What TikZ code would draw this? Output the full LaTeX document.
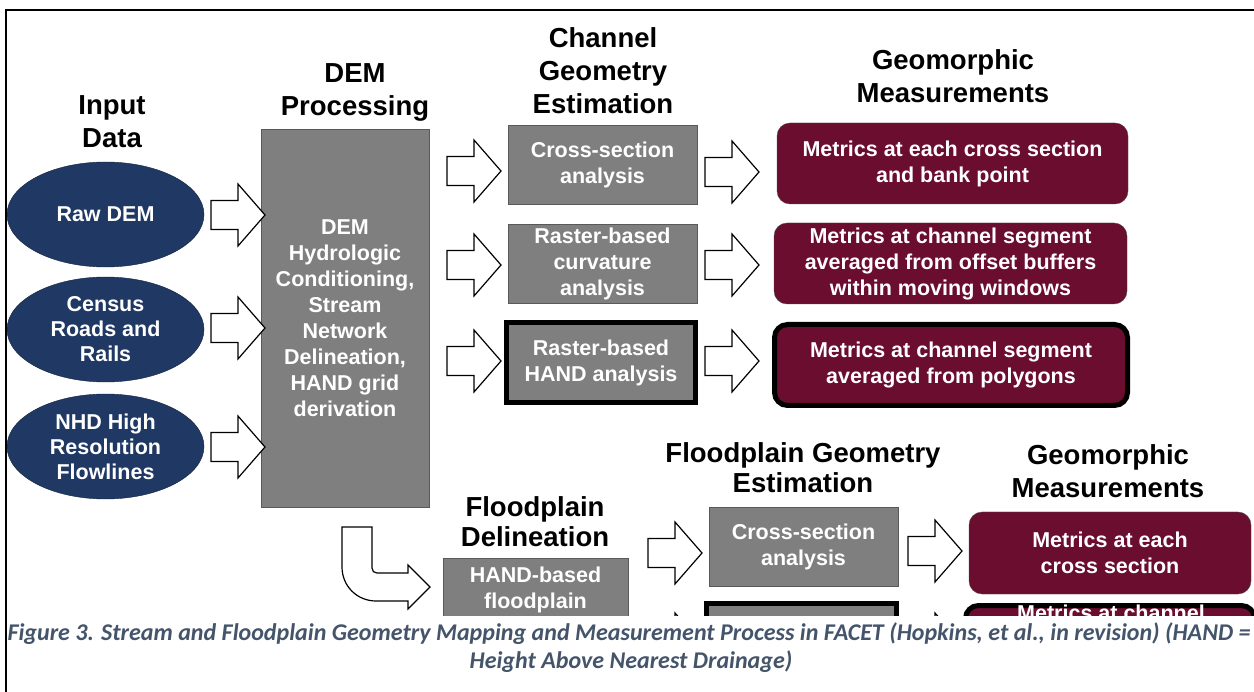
\documentclass[tikz,border=0pt]{standalone}
\usepackage{fontspec}
\setmainfont{Liberation Sans}
\newfontfamily\captionfont{Carlito}
\usepackage{tikz}
\usetikzlibrary{shapes.geometric}
\definecolor{inputBlue}{HTML}{1F3864}
\definecolor{stepGrey}{HTML}{7F7F7F}
\definecolor{metricRed}{HTML}{6B0D2E}
\definecolor{captionBlue}{HTML}{44546A}

\tikzset{hollowArrow/.pic={
    \draw[arrowOutline] (0,-14.5) -- (27,-14.5) -- (27,-31) -- (54,0) -- (27,31) -- (27,14.5) -- (0,14.5) -- cycle;
}}

\begin{document}
\begin{tikzpicture} [
    x=1pt, y=-1pt,
    heading/.style={font=\bfseries\fontsize{27.5}{33}\selectfont, align=center, inner sep=0pt},
    boxText/.style={text=white, inner sep=0pt, align=center, font=\bfseries\fontsize{21.5}{26}\selectfont},
    inputData/.style={ellipse, draw=inputBlue!60!black, fill=inputBlue, text=white, minimum width=197pt, minimum height=105pt, inner sep=0pt, align=center, font=\bfseries\fontsize{21.5}{25}\selectfont},
    greyBox/.style={rectangle, draw=black!65, fill=stepGrey, text=white, minimum width=189pt, minimum height=79pt, inner sep=0pt, align=center, font=\bfseries\fontsize{21.5}{26}\selectfont},
    thickGreyBox/.style={greyBox, draw=black, line width=5pt, minimum height=80pt},
    metricBox/.style={rectangle, rounded corners=13pt, draw=black!70, fill=metricRed, text=white, minimum height=81pt, inner sep=0pt, align=center, font=\bfseries\fontsize{21.5}{26}\selectfont},
    thickMetricBox/.style={metricBox, draw=black, line width=5pt},
    arrowOutline/.style={draw=black, fill=white, line width=1.2pt, line join=miter},
    captionLine/.style={text=captionBlue, inner sep=0pt, anchor=base, font=\captionfont\bfseries\itshape\fontsize{24}{28}\selectfont}
]
    \useasboundingbox (0,0) rectangle (1254,692);
    \fill[white] (0,0) rectangle (1254,692);

    \begin{scope}
    \clip (0,0) rectangle (1254,615);

    % input data
    \node[heading] (inputHead) at (112,121.5) {Input\\Data};
    \node[inputData] (rawDem) at (105.5,214.5) {Raw DEM};
    \node[inputData] (census) at (105.5,329.5) {Census\\Roads and\\Rails};
    \node[inputData] (nhd) at (105.5,446.5) {NHD High\\Resolution\\Flowlines};

    % dem processing
    \node[heading] (demHead) at (355,92.5) {DEM\\Processing};
    \node[greyBox, minimum width=168pt, minimum height=378pt] (dem) at (345,318) {DEM\\Hydrologic\\Conditioning,\\Stream\\Network\\Delineation,\\HAND grid\\derivation};

    \pic at (211,215) {hollowArrow};
    \pic at (211,328) {hollowArrow};
    \pic at (211,447) {hollowArrow};

    % channel geometry
    \node[heading] (channelHead) at (603,71) {Channel\\Geometry\\Estimation};
    \node[greyBox] (chCross) at (602.5,164.5) {Cross-section\\analysis};
    \node[greyBox] (chCurv) at (602.5,263.5) {Raster-based\\curvature\\analysis};
    \node[thickGreyBox] (chHand) at (601,362.5) {Raster-based\\HAND analysis};

    \pic at (447,171) {hollowArrow};
    \pic at (447,265) {hollowArrow};
    \pic at (447,361) {hollowArrow};

    % geomorphic measurements (channel)
    \node[heading] (chMetricHead) at (953,76.5) {Geomorphic\\Measurements};
    \node[metricBox, minimum width=351pt] (chMetricA) at (952.5,163.5) {Metrics at each cross section\\and bank point};
    \node[metricBox, minimum width=353pt] (chMetricB) at (950.5,263.5) {Metrics at channel segment\\averaged from offset buffers\\within moving windows};
    \node[thickMetricBox, minimum width=353pt] (chMetricC) at (951,365) {Metrics at channel segment\\averaged from polygons};

    \pic at (705,172) {hollowArrow};
    \pic at (705,265) {hollowArrow};
    \pic at (705,361) {hollowArrow};

    % floodplain delineation
    \draw[arrowOutline] (342,527) -- (372,527) -- (372,568)
        .. controls (372,571) and (374,573) .. (377,573) -- (408,573) -- (408,565)
        -- (430,587) -- (408,609) -- (408,601) -- (376,601)
        .. controls (357,601) and (342,586) .. (342,567) -- cycle;
    \node[heading, font=\bfseries\fontsize{27.5}{30}\selectfont] (fpHead) at (535,522) {Floodplain\\Delineation};
    \node[greyBox, minimum width=185pt, minimum height=84pt] (fpHand) at (535.5,600) {};
    \node[boxText, anchor=north] (fpHandText) at (535.5,566.5) {HAND-based\\floodplain};

    % floodplain geometry
    \node[heading, font=\bfseries\fontsize{27.5}{30}\selectfont] (fpGeoHead) at (803,468) {Floodplain Geometry\\Estimation};
    \node[greyBox] (fpCross) at (803.5,546.5) {Cross-section\\analysis};
    \node[thickGreyBox, minimum width=190pt] (fpHandBox) at (801.5,643.5) {};

    \pic at (648,553) {hollowArrow};
    \pic at (648,644) {hollowArrow};

    % geomorphic measurements (floodplain)
    \node[heading] (fpMetricHead) at (1108,471.5) {Geomorphic\\Measurements};
    \node[metricBox, minimum width=282pt, minimum height=82pt] (fpMetricA) at (1110,553) {Metrics at each\\cross section};
    \node[thickMetricBox, minimum width=289pt, minimum height=82pt] (fpMetricB) at (1110,646.5) {};
    \node[boxText, anchor=base] (fpMetricBText) at (1111,620) {Metrics at channel};

    \pic at (908,551) {hollowArrow};
    \pic at (908,644) {hollowArrow};
    \end{scope}

    % frame
    \draw[line width=1.3pt] (6,692) -- (6,10) -- (1254,10);

    % caption
    \node[captionLine] (captionA) at (629,640) {Figure 3. Stream and Floodplain Geometry Mapping and Measurement Process in FACET (Hopkins, et al., in revision) (HAND =};
    \node[captionLine] (captionB) at (631,668) {Height Above Nearest Drainage)};
\end{tikzpicture}
\end{document}
